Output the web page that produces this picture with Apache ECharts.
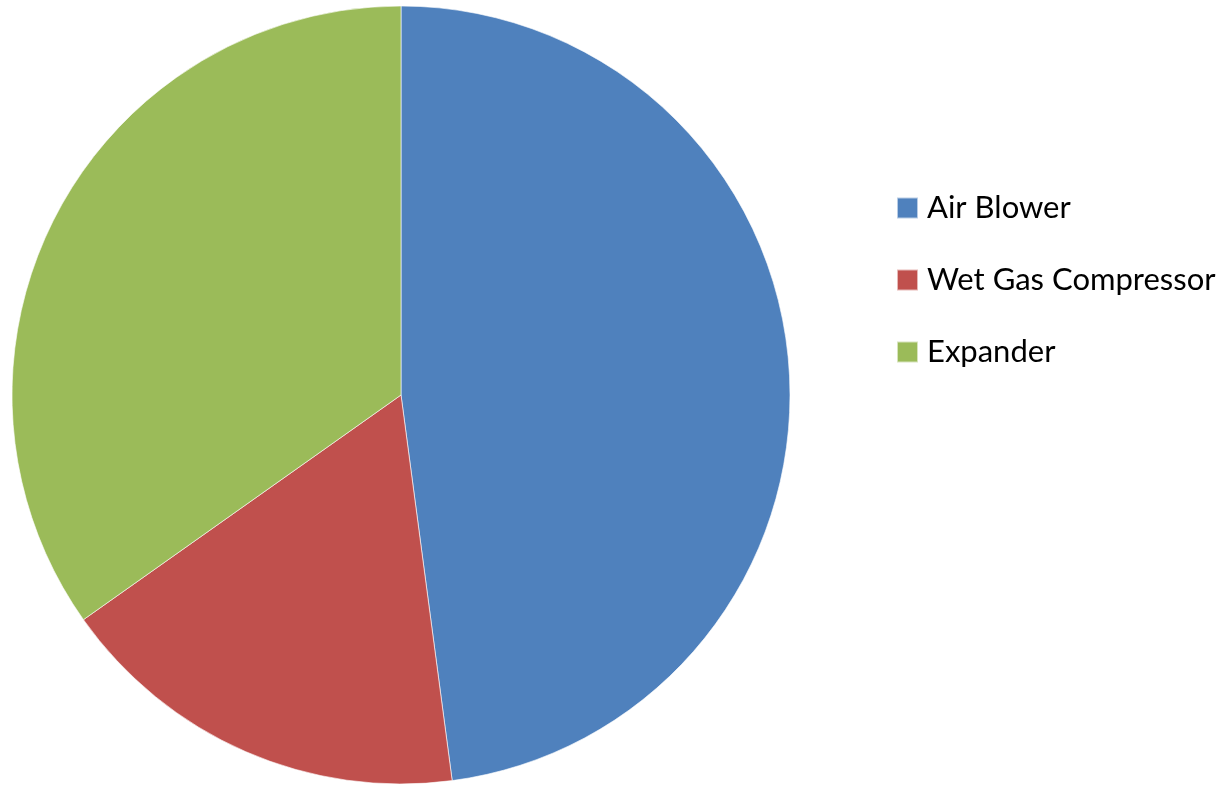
<!DOCTYPE html>
<html><head><meta charset="utf-8">
<script src="https://cdn.jsdelivr.net/npm/echarts@6/dist/echarts.min.js"></script>
<style>html,body{margin:0;padding:0;background:#fff}#c{width:1225px;height:785px}</style>
</head><body><div id="c"></div>
<script>
const categories = ["Air Blower", "Wet Gas Compressor", "Expander"];
const values = [47.9, 17.3, 34.8];
const colors = ["#4F81BD", "#C0504D", "#9BBB59"];

const chart = echarts.init(document.getElementById('c'), null, {renderer: 'canvas'});
chart.setOption({
  animation: false,
  backgroundColor: '#ffffff',
  color: colors,
  legend: {
    orient: 'vertical',
    left: 896,
    top: 192,
    padding: 0,
    itemWidth: 21,
    itemHeight: 21,
    itemGap: 40,
    icon: 'rect',
    textStyle: {fontFamily: 'Lato', fontSize: 31, lineHeight: 32, color: '#000', padding: [0,0,0,4]},
    data: categories
  },
  series: [{
    type: 'pie',
    center: [401, 395],
    radius: [0, 389],
    startAngle: 90,
    clockwise: true,
    label: {show: false},
    labelLine: {show: false},
    itemStyle: {borderColor: 'rgba(255,255,255,0.6)', borderWidth: 1},
    emphasis: {disabled: true},
    data: categories.map((n, i) => ({name: n, value: values[i]}))
  }]
});
</script></body></html>
